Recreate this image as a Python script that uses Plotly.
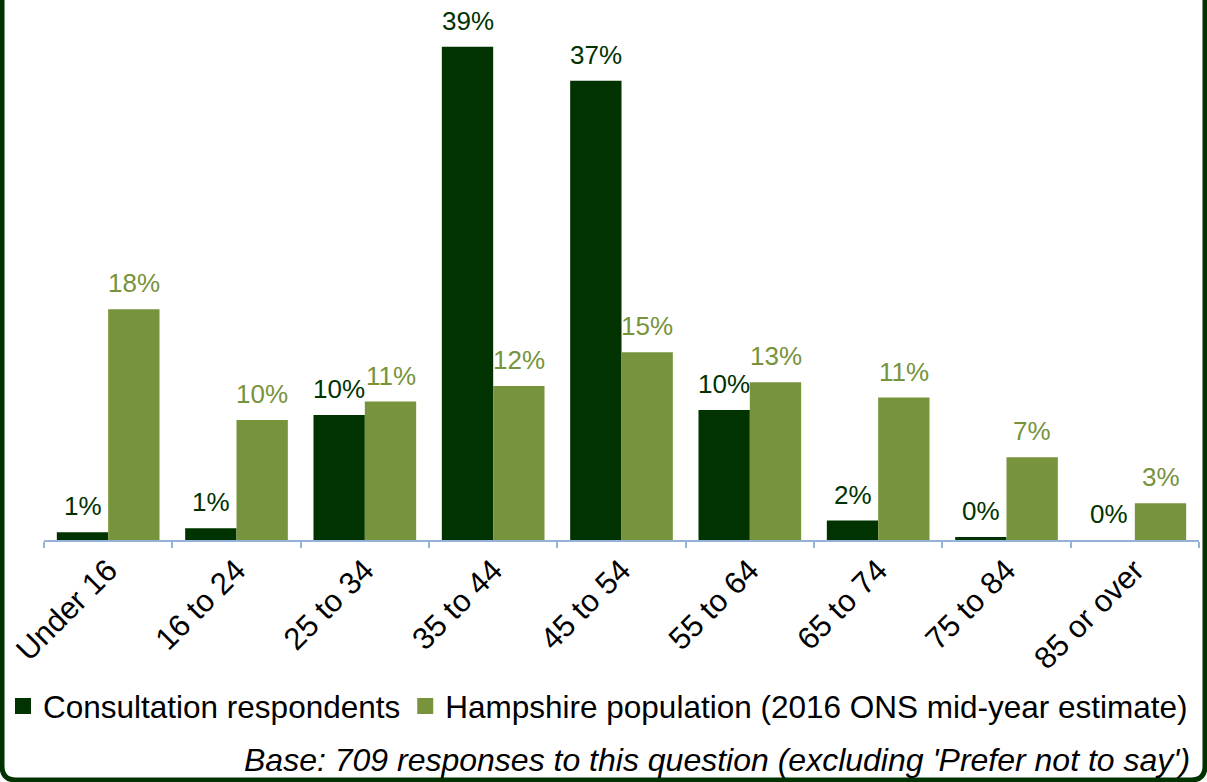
import plotly.graph_objects as go

categories = ["Under 16", "16 to 24", "25 to 34", "35 to 44", "45 to 54",
              "55 to 64", "65 to 74", "75 to 84", "85 or over"]
respondents = [0.62, 0.93, 9.98, 39.38, 36.66, 10.38, 1.55, 0.24, 0.0]
population = [18.43, 9.58, 11.05, 12.30, 14.99, 12.6, 11.37, 6.61, 2.93]

series_names = ["Consultation respondents",
                "Hampshire population (2016 ONS mid-year estimate)"]
footnote = "Base: 709 responses to this question (excluding 'Prefer not to say')"

DARK = "#003300"
OLIVE = "#77933C"
FONT = "Arial, Liberation Sans, sans-serif"

W, H = 1207, 782
ML, MR, MT, MB = 44, 8, 39, 242
PW = W - ML - MR
PH = H - MT - MB
BARGAP = 0.2


def px(xp):
    return (xp - ML) / PW


def py(yp):
    return (H - MB - yp) / PH


fig = go.Figure()
half = (1 - BARGAP) / 4  # centre offset of each bar within its group
for k, (name, vals, col) in enumerate([(series_names[0], respondents, DARK),
                                       (series_names[1], population, OLIVE)]):
    fig.add_trace(go.Bar(
        x=categories, y=vals, name=name, marker_color=col,
        marker_line_width=0, showlegend=False, hoverinfo="x+y",
    ))
    fig.add_trace(go.Scatter(
        x=[None], y=[None], mode="markers", name=name,
        marker=dict(symbol="square", size=16, color=col),
    ))
    off = -half if k == 0 else half
    for i, v in enumerate(vals):
        fig.add_annotation(
            x=i + off, y=v, xref="x", yref="y", text=f"{v:.0f}%",
            showarrow=False, yanchor="bottom", xanchor="center", yshift=9,
            font=dict(family=FONT, size=26, color=col),
        )

# rounded border
r = 14
xl, xr, yb, yt = 2, W - 2, H - 2, -20
path = (f"M {px(xl)},{py(yt)} L {px(xl)},{py(yb - r)} "
        f"Q {px(xl)},{py(yb)} {px(xl + r)},{py(yb)} "
        f"L {px(xr - r)},{py(yb)} Q {px(xr)},{py(yb)} {px(xr)},{py(yb - r)} "
        f"L {px(xr)},{py(yt)}")
fig.add_shape(type="path", path=path, xref="paper", yref="paper",
              line=dict(color=DARK, width=5))

fig.add_annotation(text="<i>" + footnote + "</i>", xref="paper", yref="paper",
                   x=px(1192), y=py(760), xanchor="right", yanchor="middle",
                   showarrow=False,
                   font=dict(family=FONT, size=32, color="black"))

fig.update_layout(
    width=W, height=H,
    margin=dict(l=ML, r=MR, t=MT, b=MB, autoexpand=False),
    paper_bgcolor="white", plot_bgcolor="white",
    barmode="group", bargap=BARGAP, bargroupgap=0,
    font=dict(family=FONT, color="black"),
    legend=dict(orientation="h", x=px(3), y=py(706), xanchor="left",
                yanchor="middle", font=dict(family=FONT, size=31.5, color="black"),
                itemsizing="trace", tracegroupgap=0, itemwidth=30,
                bgcolor="rgba(0,0,0,0)"),
    xaxis=dict(showline=True, linecolor="#95B3D7", linewidth=1.5,
               ticks="outside", tickson="boundaries", ticklen=6,
               tickcolor="#95B3D7", tickwidth=1.5, tickangle=-45,
               ticklabelstandoff=-2, automargin=False,
               tickfont=dict(family=FONT, size=31, color="black"),
               showgrid=False, zeroline=False),
    yaxis=dict(range=[0, 40], visible=False, showgrid=False, zeroline=False,
               automargin=False),
    showlegend=True,
)

fig.write_html("out.html", config={"displayModeBar": False},
               post_script="document.body.style.margin='0px';"
                           "document.body.style.overflow='hidden';")
